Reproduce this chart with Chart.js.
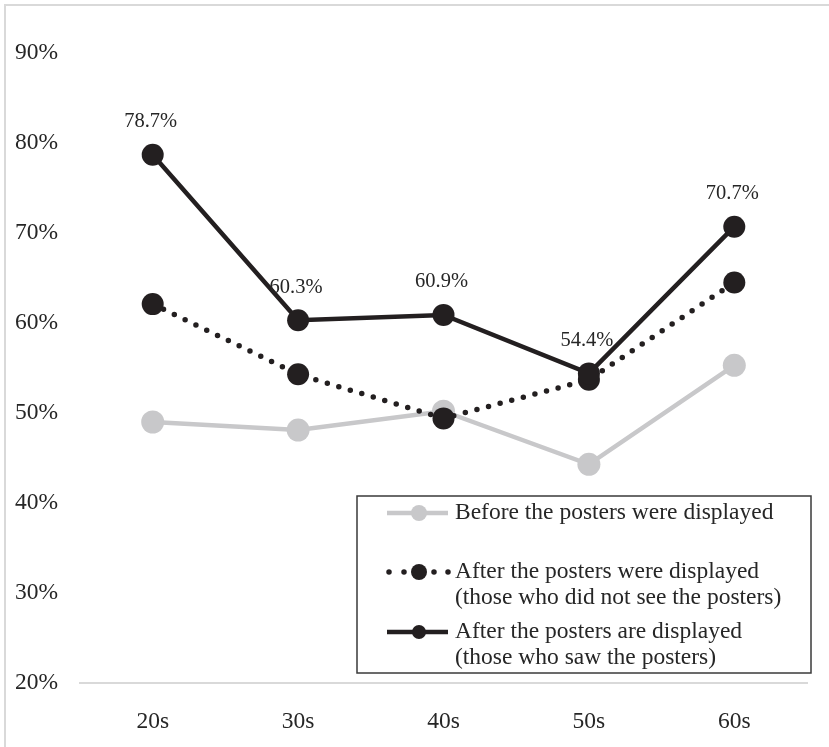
<!DOCTYPE html>
<html>
<head>
<meta charset="utf-8">
<script src="https://cdn.jsdelivr.net/npm/chart.js@4/dist/chart.umd.min.js"></script>
<style>
  html, body { margin: 0; padding: 0; background: #fff; }
  #wrap { position: relative; width: 829px; height: 747px; overflow: hidden; }
  #frame { position: absolute; left: 4px; top: 4px; right: -10px; bottom: -10px;
           border-top: 2px solid #d9d9d9; border-left: 2px solid #d9d9d9; }
  canvas { position: absolute; left: 0; top: 0; }
</style>
</head>
<body>
<div id="wrap">
  <div id="frame"></div>
  <canvas id="c" width="829" height="747"></canvas>
</div>
<script>
// Age groups on the x axis
const ageGroups = ['20s', '30s', '40s', '50s', '60s'];

// Share of respondents (%) per age group
const beforeDisplay = [49.0, 48.1, 50.2, 44.3, 55.3];
const afterNotSeen  = [62.1, 54.3, 49.4, 53.7, 64.5];
const afterSeen     = [78.7, 60.3, 60.9, 54.4, 70.7];

// Legend wording (one array entry per text line)
const legendBefore  = ['Before the posters were displayed'];
const legendNotSeen = ['After the posters were displayed', '(those who did not see the posters)'];
const legendSeen    = ['After the posters are displayed', '(those who saw the posters)'];

// Y axis range and tick step
const yMin = 20, yMax = 90, yStep = 10;

const SERIF = '"Liberation Serif", "Times New Roman", serif';
const TEXT = '#262626';
const BLACK = '#231f20';
const GREY = '#c8c8ca';

// Percentage labels above the solid series
const valueLabels = {
  id: 'valueLabels',
  afterDatasetsDraw(chart) {
    const ctx = chart.ctx;
    chart.data.datasets.forEach((ds, i) => {
      if (!ds.showValues) return;
      const meta = chart.getDatasetMeta(i);
      ctx.save();
      ctx.font = '20.5px ' + SERIF;
      ctx.fillStyle = TEXT;
      ctx.textAlign = 'center';
      ctx.textBaseline = 'middle';
      meta.data.forEach((pt, j) => {
        ctx.fillText(ds.data[j].toFixed(1) + '%', pt.x - 2, pt.y - 33);
      });
      ctx.restore();
    });
  }
};

// Boxed legend inside the plot area, lower right
const boxLegend = {
  id: 'boxLegend',
  afterDraw(chart) {
    const ctx = chart.ctx;
    const box = { x: 357, y: 496, w: 454, h: 177 };
    const rows = [513, 572, 632];
    const lineH = 26;
    ctx.save();
    ctx.fillStyle = '#fff';
    ctx.fillRect(box.x, box.y, box.w, box.h);
    ctx.strokeStyle = '#3a3a3a';
    ctx.lineWidth = 1.5;
    ctx.strokeRect(box.x, box.y, box.w, box.h);

    const order = [2, 1, 0]; // gray, dotted, solid
    order.forEach((di, r) => {
      const ds = chart.data.datasets[di];
      const y = rows[r];
      const x0 = 387, x1 = 448, xm = 419;
      ctx.save();
      ctx.strokeStyle = ds.borderColor;
      ctx.lineWidth = ds.borderWidth;
      ctx.lineCap = ds.borderCapStyle || 'butt';
      if (ds.borderDash && ds.borderDash.length) {
        ctx.fillStyle = ds.borderColor;
        [389, 404, 434, 448].forEach(dx => {
          ctx.beginPath();
          ctx.arc(dx, y, ds.borderWidth / 2, 0, Math.PI * 2);
          ctx.fill();
        });
      } else {
        ctx.beginPath();
        ctx.moveTo(x0, y);
        ctx.lineTo(x1, y);
        ctx.stroke();
      }
      ctx.fillStyle = ds.pointBackgroundColor;
      ctx.beginPath();
      ctx.arc(xm, y, ds.legendPointRadius, 0, Math.PI * 2);
      ctx.fill();
      ctx.restore();

      ctx.font = '23.5px ' + SERIF;
      ctx.fillStyle = TEXT;
      ctx.textAlign = 'left';
      ctx.textBaseline = 'middle';
      ds.legendLines.forEach((t, k) => ctx.fillText(t, 455, y + k * lineH));
    });
    ctx.restore();
  }
};

new Chart(document.getElementById('c'), {
  type: 'line',
  data: {
    labels: ageGroups,
    datasets: [
      {
        label: legendSeen.join(' '),
        legendLines: legendSeen,
        data: afterSeen,
        borderColor: BLACK,
        borderWidth: 4.5,
        pointBackgroundColor: BLACK,
        pointBorderWidth: 0,
        pointRadius: 11,
        legendPointRadius: 7,
        showValues: true,
        order: 1
      },
      {
        label: legendNotSeen.join(' '),
        legendLines: legendNotSeen,
        data: afterNotSeen,
        borderColor: BLACK,
        borderWidth: 5.5,
        borderDash: [0, 12],
        borderCapStyle: 'round',
        pointBackgroundColor: BLACK,
        pointBorderWidth: 0,
        pointRadius: 11,
        legendPointRadius: 8,
        order: 2
      },
      {
        label: legendBefore.join(' '),
        legendLines: legendBefore,
        data: beforeDisplay,
        borderColor: GREY,
        borderWidth: 4.5,
        pointBackgroundColor: GREY,
        pointBorderWidth: 0,
        pointRadius: 11.5,
        legendPointRadius: 8,
        order: 3
      }
    ]
  },
  options: {
    responsive: false,
    animation: false,
    layout: { padding: { left: 15, top: 53, right: 22, bottom: 0 } },
    plugins: { legend: { display: false }, tooltip: { enabled: false } },
    scales: {
      x: {
        offset: true,
        grid: { display: false },
        border: { display: true, color: '#d9d9d9', width: 2 },
        ticks: { color: TEXT, font: { family: SERIF, size: 23.5 }, padding: 17 },
        afterFit(scale) { scale.height = 64; }
      },
      y: {
        min: yMin,
        max: yMax,
        grid: { display: false },
        border: { display: false },
        ticks: {
          stepSize: yStep,
          color: TEXT,
          font: { family: SERIF, size: 23.5 },
          crossAlign: 'far',
          callback: v => v + '%'
        },
        afterFit(scale) { scale.width = 65; }
      }
    }
  },
  plugins: [valueLabels, boxLegend]
});
</script>
</body>
</html>
